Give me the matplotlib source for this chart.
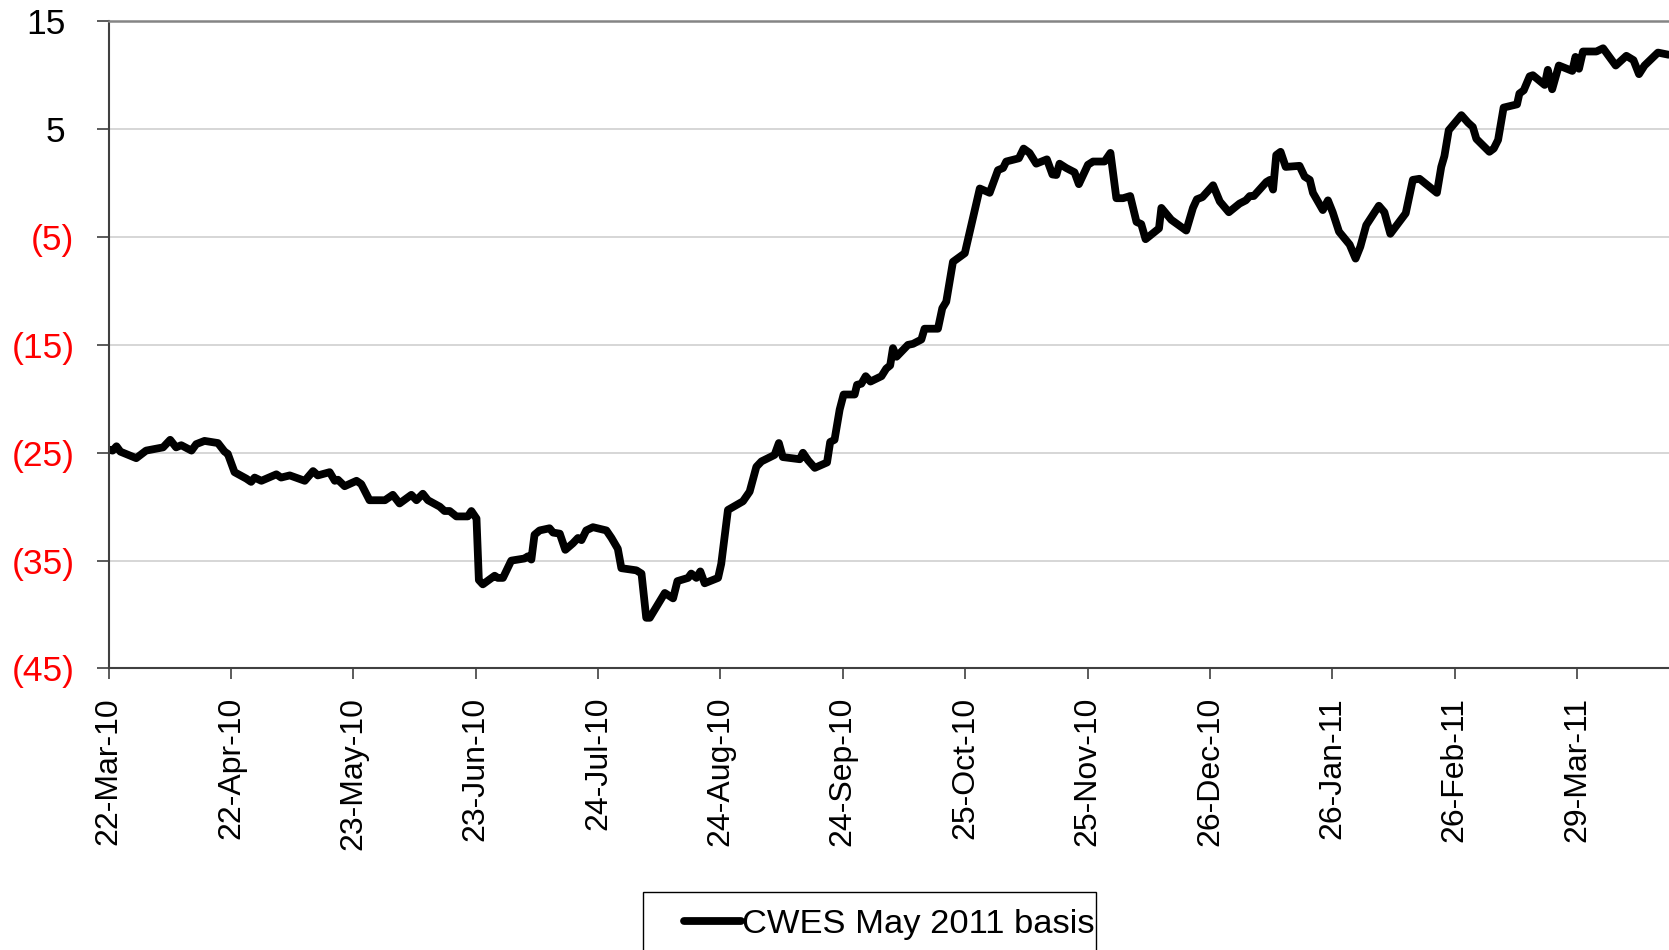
import datetime as dt

import numpy as np
import matplotlib
matplotlib.use('Agg')
import matplotlib.pyplot as plt
import matplotlib.dates as mdates
from matplotlib.patches import Rectangle
from matplotlib.transforms import ScaledTranslation

plt.rcParams['font.family'] = ['Liberation Sans', 'DejaVu Sans']

# basis series: days after 22-Mar-10 and value
start = dt.date(2010, 3, 22)
days = [0, 1, 2, 3, 7, 9.5, 13.8, 15.6, 17.1, 18.4, 21.0, 22.2, 24.3, 27.7, 29.4,
        30.2, 31.9, 34.9, 36.1, 37.0, 38.7, 42.5, 43.7, 45.9, 49.7, 51.8, 53.0,
        56.0, 57.3, 58.1, 59.8, 62.8, 64.0, 66.1, 70.0, 72.0, 73.7, 76.7, 78.0,
        79.6, 80.9, 83.9, 85.1, 86.4, 88.1, 91.0, 91.9, 93.2, 93.8, 94.8, 97.8,
        98.6, 99.9, 102.0, 105.4, 106.2, 107.1, 107.9, 109.2, 111.7, 112.6, 114.3,
        115.7, 117.6, 118.9, 119.8, 121.0, 122.7, 126.1, 127.4, 129.0, 129.9,
        133.7, 135.0, 136.2, 137.1, 140.9, 143.0, 144.1, 146.8, 147.6, 148.9,
        149.9, 151.0, 154.4, 155.2, 156.9, 160.7, 162.4, 164.1, 165.4, 168.7,
        169.8, 170.8, 175.1, 175.9, 177.2, 178.9, 182.0, 182.8, 183.9, 185.2,
        186.2, 189.0, 189.6, 190.7, 191.8, 193.0, 195.8, 197.0, 198.0, 198.7,
        199.6, 202.5, 203.8, 205.9, 206.7, 210.1, 211.2, 212.2, 213.9, 216.9,
        219.0, 220.7, 223.2, 225.3, 226.6, 227.4, 230.6, 231.8, 233.3, 235.0,
        237.7, 239.1, 240.1, 240.9, 242.6, 244.7, 245.8, 248.1, 249.4, 252.3,
        253.8, 255.3, 257.0, 258.8, 260.4, 261.6, 262.7, 266.1, 266.7, 269.2,
        273.0, 274.7, 275.7, 277.1, 279.8, 281.5, 283.8, 286.5, 288.1, 289.1,
        290.1, 293.3, 294.2, 295.0, 295.8, 296.9, 298.2, 301.7, 303.0, 304.3,
        305.1, 307.6, 308.9, 310.1, 311.7, 314.4, 315.9, 317.1, 318.6, 321.8,
        323.2, 324.7, 328.6, 330.4, 332.1, 336.5, 337.6, 338.4, 339.5, 342.7,
        344.4, 345.6, 346.5, 349.8, 350.9, 352.0, 353.4, 356.8, 357.4, 358.5,
        360.0, 360.8, 363.8, 364.6, 365.7, 367.4, 370.8, 371.6, 372.5, 373.5,
        376.9, 378.6, 381.8, 384.5, 386.3, 387.7, 389.1, 392.5, 395.2]
basis = [-24.7, -24.8, -24.4, -24.9, -25.5, -24.8, -24.5, -23.8, -24.5, -24.3, -24.8,
         -24.2, -23.9, -24.1, -24.9, -25.1, -26.8, -27.4, -27.7, -27.3, -27.6,
         -27.0, -27.3, -27.1, -27.6, -26.7, -27.1, -26.8, -27.6, -27.5, -28.1,
         -27.6, -27.9, -29.4, -29.4, -28.9, -29.7, -28.9, -29.4, -28.8, -29.4,
         -30.0, -30.4, -30.4, -30.9, -30.9, -30.4, -31.1, -36.8, -37.2, -36.4,
         -36.6, -36.6, -35.0, -34.8, -34.6, -34.9, -32.6, -32.2, -32.0, -32.4,
         -32.5, -34.0, -33.4, -32.9, -33.1, -32.2, -31.9, -32.2, -32.9, -33.9,
         -35.7, -35.9, -36.2, -40.3, -40.3, -38.0, -38.5, -36.9, -36.6, -36.2,
         -36.6, -36.0, -37.1, -36.6, -35.3, -30.3, -29.5, -28.6, -26.3, -25.8,
         -25.2, -24.1, -25.4, -25.6, -25.0, -25.7, -26.4, -25.9, -24.0, -23.8,
         -21.0, -19.6, -19.6, -18.7, -18.6, -17.9, -18.4, -17.9, -17.2, -16.9,
         -15.3, -16.1, -15.0, -14.9, -14.5, -13.5, -13.5, -11.6, -11.0, -7.3,
         -6.5, -3.2, -0.5, -0.9, 1.2, 1.4, 2.0, 2.3, 3.2, 2.8, 1.8, 2.2, 0.8,
         0.75, 1.8, 1.4, 1.0, -0.1, 1.7, 2.0, 2.0, 2.8, -1.4, -1.4, -1.2, -3.6,
         -3.8, -5.2, -4.2, -2.3, -3.4, -4.4, -2.3, -1.5, -1.3, -0.2, -1.7, -2.7,
         -1.9, -1.6, -1.2, -1.2, 0.1, 0.3, -0.6, 2.6, 2.9, 1.5, 1.6, 0.6, 0.3,
         -0.9, -2.5, -1.6, -2.7, -4.5, -5.7, -7.0, -5.9, -3.9, -2.1, -2.7, -4.7,
         -2.8, 0.3, 0.4, -0.9, 1.5, 2.5, 4.9, 6.3, 5.6, 5.2, 4.1, 2.9, 3.2, 4.0,
         7.0, 7.3, 8.3, 8.6, 9.9, 10.0, 9.1, 10.5, 8.7, 10.9, 10.4, 11.7, 10.6,
         12.2, 12.2, 12.5, 10.9, 11.8, 11.4, 10.1, 10.9, 12.1, 11.9]

tick_dates = ['2010-03-22', '2010-04-22', '2010-05-23', '2010-06-23', '2010-07-24',
              '2010-08-24', '2010-09-24', '2010-10-25', '2010-11-25', '2010-12-26',
              '2011-01-26', '2011-02-26', '2011-03-29']
y_ticks = [15, 5, -5, -15, -25, -35, -45]
series_name = 'CWES May 2011 basis'

x0 = mdates.date2num(start)
x = x0 + np.array(days)

fig = plt.figure(figsize=(16.69, 9.5), dpi=100)
ax = fig.add_axes([0.06507, 0.29632, 0.93493, 0.68126])

line, = ax.plot(x, basis, color='black', lw=5.6, solid_joinstyle='round',
                solid_capstyle='round', label=series_name)

ax.set_xlim(x0, x0 + 395.3)
ax.set_ylim(-45, 15)

ax.set_xticks(mdates.date2num([dt.date.fromisoformat(d) for d in tick_dates]))
ax.xaxis.set_major_formatter(mdates.DateFormatter('%d-%b-%y'))
ax.set_yticks(y_ticks)

ax.grid(axis='y', color='#cfcfcf', lw=1.2)
ax.set_axisbelow(True)

for side in ['left', 'bottom']:
    ax.spines[side].set_color('#404040')
    ax.spines[side].set_linewidth(1.5)
ax.spines['top'].set_color('#858585')
ax.spines['top'].set_linewidth(1.8)
ax.spines['right'].set_visible(False)

ax.tick_params(axis='x', direction='out', length=8, width=1.2, color='#404040',
               labelsize=23, labelrotation=90, pad=12.5)
ax.tick_params(axis='y', direction='out', length=8.5, width=1.2, color='#404040',
               labelleft=False)

# accounting style labels: negatives in red brackets, positives padded
ytrans = ax.get_yaxis_transform()
pad_pos = ScaledTranslation(-6.5 / 72, 0, fig.dpi_scale_trans)
for v in y_ticks:
    if v < 0:
        ax.text(-0.0218, v, f'({abs(v)})', transform=ytrans, ha='right',
                va='center_baseline', fontsize=25.5, color='#ff0000')
    else:
        ax.text(-0.0218, v, f'{v}', transform=ytrans + pad_pos, ha='right',
                va='center_baseline', fontsize=25.5, color='black')

fig.legend(handles=[line], labels=[series_name], loc='center left',
           bbox_to_anchor=(684 / 1669, 1 - 924 / 950), frameon=False,
           fontsize=24.8, handlelength=1.65, handletextpad=0.03, borderpad=0,
           borderaxespad=0)
fig.add_artist(Rectangle((643 / 1669, -0.05), (1096 - 643) / 1669,
                         0.05 + 1 - 892 / 950, transform=fig.transFigure,
                         fill=False, edgecolor='black', lw=1.0))

fig.savefig('out.png', dpi=100)
